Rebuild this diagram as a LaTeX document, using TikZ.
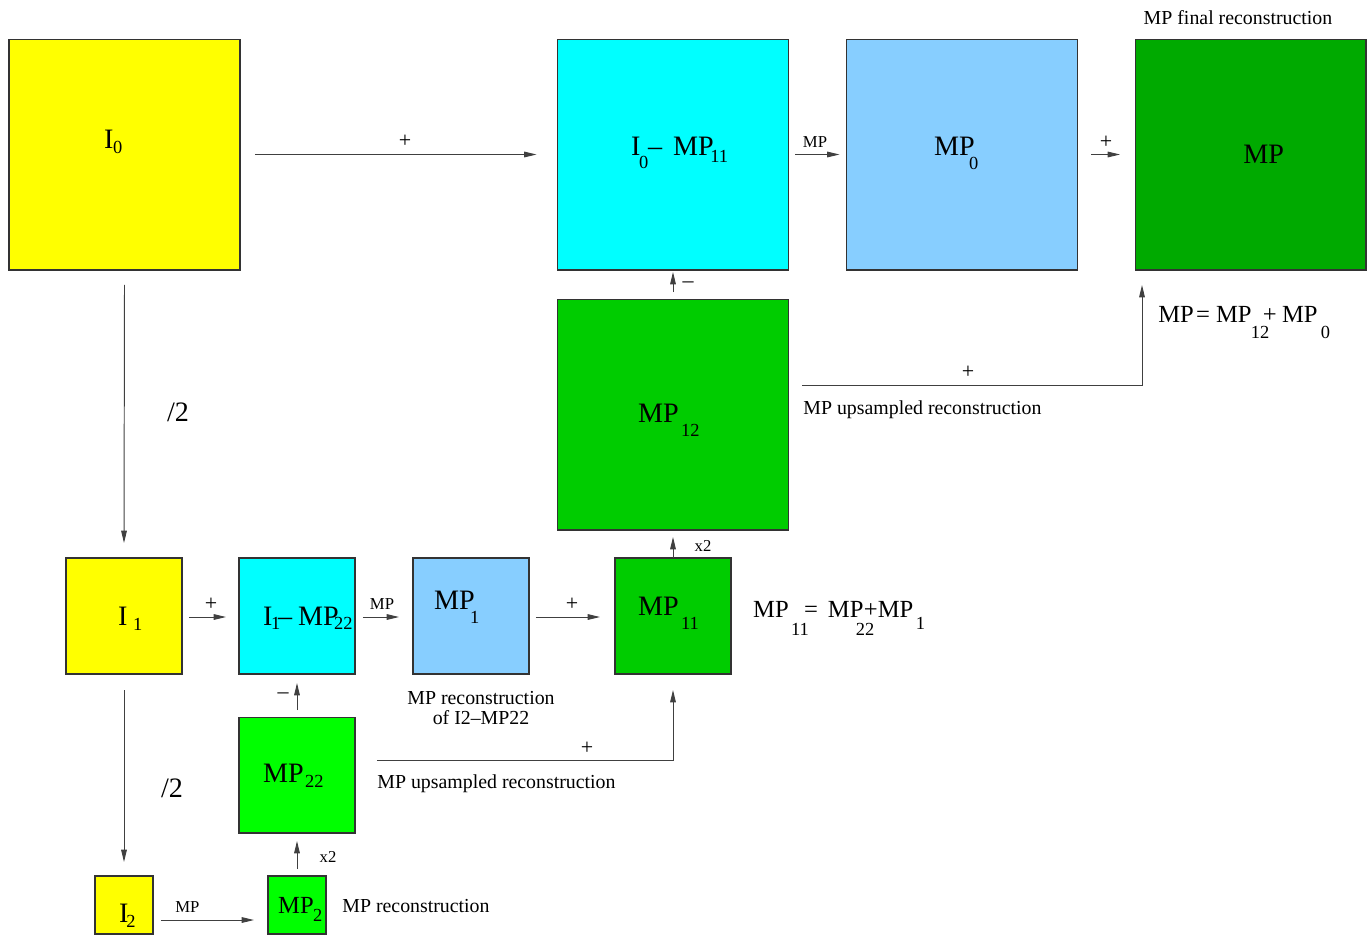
\documentclass[tikz,border=0pt]{standalone}
\usepackage{fontspec}
\setmainfont{Liberation Serif}
\usetikzlibrary{arrows.meta,calc}
\definecolor{cyanbox}{RGB}{0,255,255}
\definecolor{lbluebox}{RGB}{135,206,255}
\definecolor{dgreenbox}{RGB}{0,170,0}
\definecolor{mgreenbox}{RGB}{0,204,0}
\definecolor{bgreenbox}{RGB}{0,255,0}
\definecolor{yellowbox}{RGB}{255,255,0}
\newcommand{\fbig}{\fontsize{16}{19}\selectfont}
\newcommand{\fmid}{\fontsize{14}{17}\selectfont}
\newcommand{\fsub}{\fontsize{10.5}{12}\selectfont}
\newcommand{\fann}{\fontsize{11.3}{13.5}\selectfont}
\newcommand{\fsml}{\fontsize{9.5}{11}\selectfont}
\newcommand{\fplus}{\fontsize{12.5}{14}\selectfont}
\newcommand{\putat}[3]{\rlap{\hspace*{#1pt}\raisebox{-#2pt}{#3}}}
\begin{document}
\begin{tikzpicture}[x=0.02cm,y=-0.02cm,
  box/.style={draw=black!80, line width=0.6pt, inner sep=0pt, outer sep=0pt},
  big/.style={box, minimum width=4.62cm, minimum height=4.62cm},
  mid/.style={box, minimum width=2.32cm, minimum height=2.32cm},
  sml/.style={box, minimum width=1.16cm, minimum height=1.16cm},
  arr/.style={draw=black!75, line width=0.55pt, -{Triangle[length=7pt,width=3.2pt]}},
  lbl/.style={inner sep=0pt, anchor=base west, font=\fbig},
  ann/.style={inner sep=0pt, font=\fann},
  sm/.style={inner sep=0pt, font=\fsml},
  pl/.style={inner sep=0pt, font=\fplus}]
\useasboundingbox (0,0) rectangle (1371,937);

% boxes
\node[big, fill=yellowbox] (I0) at (124.5,154.5) {};
\node[big, fill=cyanbox] (D0) at (673,154.5) {};
\node[big, fill=lbluebox] (MP0) at (962,154.5) {};
\node[big, fill=dgreenbox] (MPF) at (1250.5,154.5) {};
\node[big, fill=mgreenbox] (MP12) at (673,414.5) {};
\node[mid, fill=yellowbox] (I1) at (124,616) {};
\node[mid, fill=cyanbox] (D1) at (297,616) {};
\node[mid, fill=lbluebox] (MP1) at (471,616) {};
\node[mid, fill=mgreenbox] (MP11) at (673,616) {};
\node[mid, fill=bgreenbox] (MP22) at (297,775) {};
\node[sml, fill=yellowbox] (I2) at (124,905) {};
\node[sml, fill=bgreenbox] (MP2) at (297,905) {};

% box labels
\node[lbl] (tI0) at (103,148) {\putat{0}{0}{I}\putat{5}{3}{\fsub 0}};
\node[lbl] (tD0) at (630,155) {\putat{0}{0}{I}\putat{4.5}{7.5}{\fsub 0}\putat{9.6}{0}{–}\putat{23.8}{0}{MP}\putat{45}{4}{\fsub 11}};
\node[lbl] (tMP0) at (933,155) {\putat{0}{0}{MP}\putat{19.8}{8}{\fsub 0}};
\node[lbl] (tMPF) at (1243,163) {MP};
\node[lbl] (tMP12) at (637,422) {\putat{0}{0}{MP}\putat{24.4}{8.5}{\fsub 12}};
\node[lbl] (tI1) at (117,625) {\putat{0}{0}{I}\putat{8.5}{3}{\fsub 1}};
\node[lbl] (tD1) at (262,625) {\putat{0}{0}{I}\putat{4.5}{2.8}{\fsub 1}\putat{8.5}{0}{–}\putat{19.8}{0}{MP}\putat{40.3}{2.8}{\fsub 22}};
\node[lbl] (tMP1) at (433,609) {\putat{0}{0}{MP}\putat{20.4}{8}{\fsub 1}};
\node[lbl] (tMP11) at (637,615) {\putat{0}{0}{MP}\putat{24.4}{8.5}{\fsub 11}};
\node[lbl] (tMP22) at (262,782) {\putat{0}{0}{MP}\putat{23.8}{3.4}{\fsub 22}};
\node[lbl] (tI2) at (118,922) {\putat{0}{0}{I}\putat{4}{3.4}{\fsub 2}};
\node[lbl, font=\fmid] (tMP2) at (277,913) {\putat{0}{0}{MP}\putat{19.8}{5}{\fsub 2}};

% formulas
\node[lbl, font=\fmid] (f11) at (752,617) {\putat{0}{0}{MP}\putat{21.5}{10.5}{\fsub 11}\putat{29}{0}{=}\putat{42.5}{0}{MP}\putat{58.4}{10.5}{\fsub 22}\putat{63}{0}{+}\putat{70.9}{0}{MP}\putat{92.5}{7}{\fsub 1}};
\node[lbl, font=\fmid] (f0) at (1157,322) {\putat{0}{0}{MP}\putat{21.5}{0}{=}\putat{32.9}{0}{MP}\putat{52.7}{9.5}{\fsub 12}\putat{59.5}{0}{+}\putat{70.5}{0}{MP}\putat{92.5}{9.5}{\fsub 0}};

% annotations
\node[ann] (aFinal) at (1238,18) {MP final reconstruction};
\node[ann, anchor=base west] (aUp1) at (803,414) {MP upsampled reconstruction};
\node[ann, anchor=base west] (aUp2) at (377,788) {MP upsampled reconstruction};
\node[ann, align=center, font=\fontsize{11.3}{11.4}\selectfont] (aRec) at (481,708) {MP reconstruction\\of I2–MP22};
\node[ann, anchor=base west] (aRec2) at (342,912) {MP reconstruction};
\node[inner sep=0pt, font=\fbig] (h1) at (178,412) {/2};
\node[inner sep=0pt, font=\fbig] (h2) at (172,788) {/2};
\node[sm] (m1) at (815,142) {MP};
\node[sm] (m2) at (382,604) {MP};
\node[sm, anchor=base west] (m3) at (175,912) {MP};
\node[sm] (x1) at (703,546) {x2};
\node[sm] (x2) at (328,857) {x2};
\node[pl] (p1) at (405,141) {+};
\node[pl] (p2) at (1106,142) {+};
\node[pl] (p3) at (968,372) {+};
\node[pl] (p4) at (211,604) {+};
\node[pl] (p5) at (572,604) {+};
\node[pl] (p6) at (587,748) {+};
\node[pl] (n1) at (688,285) {–};
\node[pl] (n2) at (283,696) {–};

% connectors
\draw[arr] ($(I0.east)+(15,0)$) -- ($(D0.west)+(-21,0)$);
\draw[arr] ($(D0.east)+(7,0)$) -- ($(MP0.west)+(-7,0)$);
\draw[arr] ($(MP0.east)+(14,0)$) -- ($(MPF.west)+(-15,0)$);
\draw[arr] ($(I0.south)+(0,15)$) -- ($(I1.north)+(0,-15)$);
\draw[arr] ($(MP12.north)+(0,-7)$) -- ($(D0.south)+(0,2)$);
\draw[arr] ($(MP12.east)+(14,-29.5)$) -| ($(MPF.south)+(-108.5,15)$);
\draw[arr] (MP11.north) -- ($(MP12.south)+(0,7)$);
\draw[arr] ($(I1.east)+(7,1)$) -- ($(D1.west)+(-13,1)$);
\draw[arr] ($(D1.east)+(8,1)$) -- ($(MP1.west)+(-14,1)$);
\draw[arr] ($(MP1.east)+(7,1)$) -- ($(MP11.west)+(-15,1)$);
\draw[arr] ($(MP22.north)+(0,-7)$) -- ($(D1.south)+(0,9)$);
\draw[arr] ($(MP22.east)+(22,-15)$) -| ($(MP11.south)+(0,16)$);
\draw[arr] ($(I1.south)+(0,16)$) -- ($(I2.north)+(0,-14)$);
\draw[arr] ($(I2.east)+(8,15)$) -- ($(MP2.west)+(-14,15)$);
\draw[arr] ($(MP2.north)+(0,-7)$) -- ($(MP22.south)+(0,8)$);
\end{tikzpicture}
\end{document}
